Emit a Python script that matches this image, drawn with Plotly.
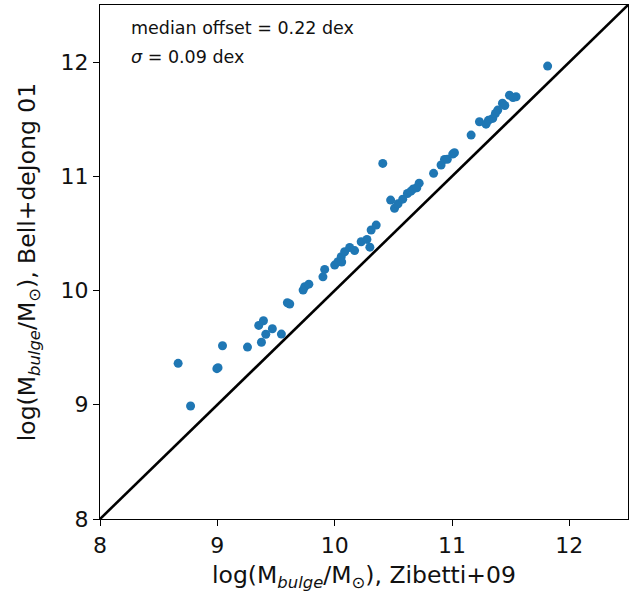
import plotly.graph_objects as go

zibetti = [8.666, 8.772, 9.044, 8.996, 9.006, 9.257, 9.353, 9.393, 9.413, 9.376, 9.469, 9.546,
           9.597, 9.617, 9.745, 9.731, 9.78, 9.90, 9.915, 10.0, 10.028, 10.056, 10.085, 10.128,
           10.226, 10.275, 10.311, 10.354, 10.41, 10.477, 10.51, 10.54, 10.58, 10.62, 10.67,
           10.72, 10.65, 10.70, 10.843, 10.907, 10.936, 10.96, 11.006, 11.021, 11.163, 11.234,
           11.29, 11.347, 11.39, 11.43, 11.49, 11.546, 11.815, 11.31, 11.37, 11.45, 11.52,
           10.06, 10.17, 10.30]
belldejong = [9.363, 8.989, 9.517, 9.316, 9.325, 9.505, 9.695, 9.736, 9.617, 9.547, 9.666, 9.619,
              9.893, 9.882, 10.033, 10.004, 10.056, 10.12, 10.185, 10.223, 10.252, 10.296, 10.34, 10.378,
              10.427, 10.448, 10.53, 10.573, 11.113, 10.792, 10.72, 10.76, 10.80, 10.85, 10.89,
              10.94, 10.87, 10.90, 11.026, 11.099, 11.148, 11.15, 11.195, 11.206, 11.361, 11.478,
              11.457, 11.507, 11.58, 11.64, 11.71, 11.697, 11.965, 11.49, 11.55, 11.62, 11.69,
              10.25, 10.35, 10.38]
line_x = [8, 12.5]
line_y = [8, 12.5]

fig = go.Figure()
fig.add_trace(go.Scatter(x=line_x, y=line_y, mode="lines",
                         line=dict(color="black", width=2.6), showlegend=False))
fig.add_trace(go.Scatter(x=zibetti, y=belldejong, mode="markers",
                         marker=dict(color="#1f77b4", size=9, line=dict(width=0)),
                         showlegend=False))

axis_common = dict(showgrid=False, zeroline=False, showline=True, linecolor="black",
                   linewidth=1.2, mirror=True, ticks="outside", ticklen=6, tickwidth=1.2,
                   tickcolor="black", tickfont=dict(size=22, color="#111"))

fig.update_layout(
    width=639, height=594,
    margin=dict(l=100, r=11, t=5, b=75),
    plot_bgcolor="white", paper_bgcolor="white",
    font=dict(family="DejaVu Sans", color="#111"),
    xaxis=dict(range=[8, 12.5], tickvals=[8, 9, 10, 11, 12],
               title=dict(text="log(M<sub><i>bulge</i></sub>/M<sub>⊙</sub>), Zibetti+09",
                          font=dict(size=23.5), standoff=10),
               **axis_common),
    yaxis=dict(range=[8, 12.5], tickvals=[8, 9, 10, 11, 12],
               title=dict(text="log(M<sub><i>bulge</i></sub>/M<sub>⊙</sub>), Bell+deJong 01",
                          font=dict(size=23.5), standoff=18),
               **axis_common),
    annotations=[
        dict(x=0.055, y=0.955, xref="paper", yref="paper", xanchor="left", yanchor="middle",
             text="median offset = 0.22 dex", showarrow=False, font=dict(size=17.5)),
        dict(x=0.055, y=0.898, xref="paper", yref="paper", xanchor="left", yanchor="middle",
             text="<i>σ</i> = 0.09 dex", showarrow=False, font=dict(size=17.5)),
    ],
)

fig.write_html("out.html")
